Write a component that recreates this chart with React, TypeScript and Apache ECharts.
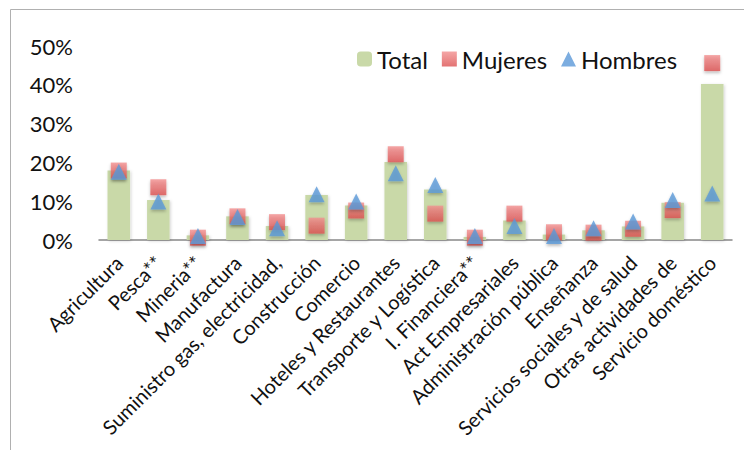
import React, { useEffect, useRef } from "react";
import * as echarts from "echarts";

const categories = [
  "Agricultura",
  "Pesca**",
  "Mineria**",
  "Manufactura",
  "Suministro gas, electricidad,",
  "Construcción",
  "Comercio",
  "Hoteles y Restaurantes",
  "Transporte y Logística",
  "I. Financiera**",
  "Act Empresariales",
  "Administración pública",
  "Enseñanza",
  "Servicios sociales y de salud",
  "Otras actividades de",
  "Servicio doméstico",
];
const total = [17.9, 10.3, 1.2, 6.1, 3.6, 11.6, 8.9, 20.1, 13.0, 0.8, 5.0, 1.4, 2.5, 3.5, 9.6, 40.2];
const mujeres = [17.9, 13.6, 0.6, 6.1, 4.6, 3.7, 7.6, 22.1, 6.8, 0.6, 6.8, 2.0, 1.9, 2.9, 7.7, 45.6];
const hombres = [17.6, 9.9, 1.0, 5.9, 3.0, 11.8, 9.9, 17.2, 14.2, 1.0, 3.6, 1.0, 3.0, 4.8, 10.3, 12.0];
const yTicks = { min: 0, max: 50, interval: 10 };

export default function App() {
  const ref = useRef<HTMLDivElement>(null);
  useEffect(() => {
    const chart = echarts.init(ref.current!, null, { renderer: "svg" });
    const font = "Lato";
    chart.setOption({
      animation: false,
      textStyle: { fontFamily: font },
      graphic: [
        {
          type: "rect",
          shape: { x: 10.5, y: 9.5, width: 800, height: 500 },
          style: { fill: "none", stroke: "#b0b0b0", lineWidth: 1 },
          silent: true,
        },
      ],
      legend: {
        top: 42,
        left: 352,
        itemWidth: 15,
        itemHeight: 15,
        itemGap: 14,
        textStyle: { fontSize: 24, color: "#111", fontFamily: font },
        data: ["Total", "Mujeres", "Hombres"],
      },
      grid: { left: 99, right: 20, top: 46, bottom: 218, containLabel: false },
      xAxis: {
        type: "category",
        data: categories,
        axisLine: { lineStyle: { color: "#888", width: 1.5 } },
        axisTick: { show: false },
        axisLabel: {
          interval: 0,
          rotate: 45,
          fontSize: 20,
          color: "#111",
          fontFamily: font,
          margin: 19,
        },
      },
      yAxis: {
        type: "value",
        min: yTicks.min,
        max: yTicks.max,
        interval: yTicks.interval,
        axisLine: { show: false },
        axisTick: { show: false },
        splitLine: { show: false },
        axisLabel: {
          formatter: "{value}%",
          fontSize: 22,
          color: "#111",
          fontFamily: font,
          margin: 26,
        },
      },
      series: [
        {
          name: "Total",
          type: "bar",
          data: total,
          barWidth: "57%",
          itemStyle: {
            color: "#c9d9a8",
            shadowColor: "rgba(0,0,0,0.18)",
            shadowBlur: 3,
            shadowOffsetX: 1,
            shadowOffsetY: 1,
          },
          z: 1,
        },
        {
          name: "Mujeres",
          type: "scatter",
          data: mujeres,
          symbol: "rect",
          symbolSize: 16,
          itemStyle: {
            color: new echarts.graphic.LinearGradient(0, 0, 0, 1, [
              { offset: 0, color: "#f29090" },
              { offset: 1, color: "#dc5050" },
            ]),
            shadowColor: "rgba(0,0,0,0.3)",
            shadowBlur: 3,
            shadowOffsetY: 2,
          },
          z: 3,
        },
        {
          name: "Hombres",
          type: "scatter",
          data: hombres,
          symbol: "triangle",
          symbolSize: [16, 16],
          itemStyle: {
            color: "#5b98d8",
            shadowColor: "rgba(0,0,0,0.3)",
            shadowBlur: 3,
            shadowOffsetY: 2,
          },
          z: 4,
        },
      ],
    });
    return () => chart.dispose();
  }, []);
  return <div ref={ref} style={{ width: 752, height: 458, margin: -8 }} />;
}
